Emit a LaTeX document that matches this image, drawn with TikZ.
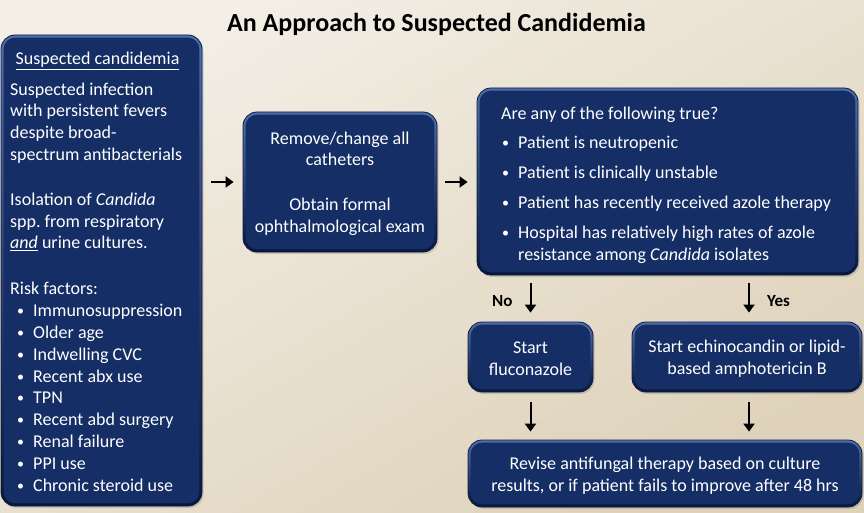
\documentclass[tikz,border=0pt]{standalone}
\usepackage{fontspec}
\setmainfont{Carlito}
\usetikzlibrary{arrows.meta,shadows,calc}
\definecolor{boxfill}{RGB}{21,46,101}
\definecolor{bevtop}{RGB}{80,110,170}
\definecolor{bevbot}{RGB}{8,22,58}
\definecolor{boxedge}{RGB}{12,28,66}
\definecolor{bgA}{RGB}{243,239,230}
\definecolor{bgB}{RGB}{222,210,186}
\newcommand\bul{\makebox[17pt][l]{\hspace*{1pt}\raisebox{1pt}{\fontsize{14}{14}\selectfont\textbullet}}}
\begin{document}
\begin{tikzpicture}[x=1pt,y=-1pt,
  box/.style={draw=boxedge, line width=0.8pt, top color=bevtop, bottom color=bevbot, rounded corners=14pt,
    drop shadow={shadow xshift=1.5pt, shadow yshift=-2pt, opacity=0.3},
    path picture={\fill[boxfill, rounded corners=11.5pt]
      ([shift={(2.6pt,2.6pt)}]path picture bounding box.south west) rectangle
      ([shift={(-2.6pt,-2.6pt)}]path picture bounding box.north east);},
    inner sep=0pt},
  ctxt/.style={text=white, font=\fontsize{18}{21.8}\selectfont, align=center, inner sep=0pt},
  txt/.style={text=white, font=\fontsize{18}{21.8}\selectfont, align=left, inner sep=0pt, anchor=base west},
  arr/.style={-{Triangle[length=8pt,width=11pt]}, line width=2pt, black},
  lab/.style={font=\bfseries\fontsize{17}{20}\selectfont, inner sep=0pt, anchor=base west}
]
\useasboundingbox (0,0) rectangle (864,513);
\shade[top color=bgA, bottom color=bgB, shading angle=30] (0,0) rectangle (864,513);

\node[font=\bfseries\fontsize{26}{30}\selectfont, anchor=base, inner sep=0pt] (title) at (436.5,31.5) {An Approach to Suspected Candidemia};

% left box
\node[box, minimum width=201pt, minimum height=471pt] (b1) at (101.5,270.5) {};
\node[txt, anchor=base] (b1h) at (97.5,64.5) {\underline{Suspected candidemia}};
% multi-line nodes: base anchor = baseline of last line
\node[txt] (b1a) at (10,248.8) {Suspected infection\\with persistent fevers\\despite broad-\\spectrum antibacterials\\[23pt]Isolation of \textit{Candida}\\spp.\ from respiratory\\\underline{\textit{and}} urine cultures.};
\node[txt] (b1b) at (10,491) {Risk factors:\\
\hspace*{6pt}\bul Immunosuppression\\
\hspace*{6pt}\bul Older age\\
\hspace*{6pt}\bul Indwelling CVC\\
\hspace*{6pt}\bul Recent abx use\\
\hspace*{6pt}\bul TPN\\
\hspace*{6pt}\bul Recent abd surgery\\
\hspace*{6pt}\bul Renal failure\\
\hspace*{6pt}\bul PPI use\\
\hspace*{6pt}\bul Chronic steroid use};

% middle box
\node[box, minimum width=194pt, minimum height=140pt] (b2) at (340,182) {};
\node[ctxt] (b2t) at ([yshift=-1.5pt]b2.center) {Remove/change all\\catheters\\[23pt]Obtain formal\\ophthalmological exam};

% question box
\node[box, minimum width=381pt, minimum height=187pt] (b3) at (667.5,181.5) {};
\node[txt] (b3t) at (501,260) {Are any of the following true?\\[8pt]
\bul Patient is neutropenic\\[8pt]
\bul Patient is clinically unstable\\[8pt]
\bul Patient has recently received azole therapy\\[8pt]
\bul Hospital has relatively high rates of azole\\
\hspace*{17pt}resistance among \textit{Candida} isolates};

% outcome boxes
\node[box, minimum width=125pt, minimum height=70pt] (fluc) at (530.5,357) {};
\node[ctxt] (fluct) at ([yshift=-2pt]fluc.center) {Start\\fluconazole};
\node[box, minimum width=230pt, minimum height=70pt] (echino) at (747,357) {};
\node[ctxt] (echinot) at ([yshift=-2pt]echino.center) {Start echinocandin or lipid-\\based amphotericin B};
\node[box, minimum width=394pt, minimum height=67pt] (revise) at (665,473.5) {};
\node[ctxt] (reviset) at ([yshift=-2.5pt]revise.center) {Revise antifungal therapy based on culture\\results, or if patient fails to improve after 48 hrs};

% labels
\node[lab] (no) at (492,306) {No};
\node[lab] (yes) at (767,306) {Yes};

% arrows
\draw[arr, shorten <=9pt, shorten >=9pt] (b1.east |- b2.west) -- (b2.west);
\draw[arr, shorten <=8pt, shorten >=9pt] (b2.east) -- (b2.east -| b3.west);
\draw[arr, shorten <=8pt, shorten >=9pt] (fluc.north |- b3.south) -- (fluc.north);
\draw[arr, shorten <=8pt, shorten >=9pt] ([xshift=2pt]echino.north |- b3.south) -- ([xshift=2pt]echino.north);
\draw[arr, shorten <=10pt, shorten >=8pt] (fluc.south) -- (fluc.south |- revise.north);
\draw[arr, shorten <=10pt, shorten >=8pt] ([xshift=2pt]echino.south) -- ([xshift=2pt]echino.south |- revise.north);
\end{tikzpicture}
\end{document}
